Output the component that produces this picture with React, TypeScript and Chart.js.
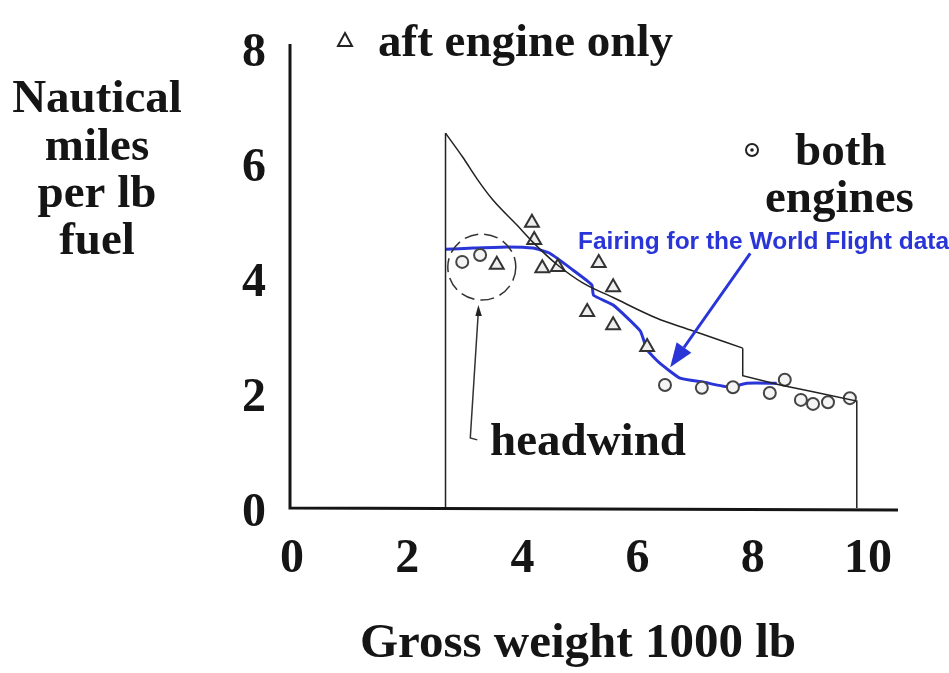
import React, { useEffect, useRef } from "react";
import { Chart, registerables } from "chart.js";
Chart.register(...registerables);

const SERIF = "'Liberation Serif', 'Times New Roman', serif";
const SANS = "'Liberation Sans', Arial, sans-serif";
const BLUE = "#2a35d8";
const INK = "#151515";

// Axis ranges and tick labels
const X_MIN = 0;
const X_MAX = 10;
const Y_MIN = 0;
const Y_MAX = 8;
const X_STEP = 2;
const Y_STEP = 2;

// Envelope curve (thin black line)
const envelopeX = [2.70, 3.0, 3.25, 3.52, 3.94, 4.22, 4.64, 5.09, 5.61, 6.37, 6.94, 7.86];
const envelopeY = [6.52, 6.10, 5.72, 5.36, 4.92, 4.62, 4.23, 3.91, 3.66, 3.30, 3.10, 2.78];
// Envelope edges: left vertical, step and right vertical (null = gap)
const edgeX = [2.70, 2.70, null, 7.86, 7.86, 8.51, 9.08, 9.84, 9.84];
const edgeY = [0, 6.52, null, 2.78, 2.30, 2.14, 2.02, 1.86, 0];

// Fairing for the World Flight data (blue)
const fairX = [2.70, 3.18, 3.77, 4.22, 4.51, 4.91, 5.24, 5.27, 5.61, 6.08, 6.20, 6.42, 6.77, 7.17, 7.64, 7.93, 8.45];
const fairY = [4.50, 4.52, 4.54, 4.52, 4.43, 4.14, 3.88, 3.70, 3.53, 3.08, 2.75, 2.52, 2.26, 2.19, 2.10, 2.17, 2.17];

// aft engine only (triangles)
const aftX = [3.59, 4.20, 4.24, 4.38, 4.65, 5.36, 5.61, 5.16, 5.61, 6.20];
const aftY = [4.23, 4.96, 4.66, 4.17, 4.19, 4.26, 3.84, 3.41, 3.18, 2.80];

// both engines (circles)
const bothX = [2.99, 3.30, 6.51, 7.15, 7.69, 8.33, 8.59, 8.87, 9.08, 9.34, 9.72];
const bothY = [4.28, 4.40, 2.14, 2.09, 2.10, 2.00, 2.23, 1.88, 1.81, 1.84, 1.91];

// Annotation anchors (data units)
const headwindCircle = { x: 3.33, y: 4.19, rx: 34, ry: 33 };
const headwindArrowFrom = { x: 3.13, y: 1.22 };
const headwindArrowTo = { x: 3.27, y: 3.53 };
const fairArrowFrom = { x: 7.99, y: 4.43 };
const fairArrowTo = { x: 6.60, y: 2.45 };

const pts = (xs: (number | null)[], ys: (number | null)[]) =>
  xs.map((x, i) => ({ x: x as any, y: ys[i] as any }));

const annotPlugin = {
  id: "annot",
  afterDraw(chart: any) {
    const ctx: CanvasRenderingContext2D = chart.ctx;
    const xs = chart.scales.x;
    const ys = chart.scales.y;
    const px = (v: number) => xs.getPixelForValue(v);
    const py = (v: number) => ys.getPixelForValue(v);
    ctx.save();

    // axes
    ctx.strokeStyle = INK;
    ctx.lineWidth = 3;
    ctx.beginPath();
    ctx.moveTo(px(0), py(Y_MAX) - 4);
    ctx.lineTo(px(0), py(0));
    ctx.lineTo(px(X_MAX) + 32, py(0) + 2);
    ctx.stroke();

    const text = (s: string, x: number, y: number, font: string, color = INK, align: CanvasTextAlign = "left") => {
      ctx.font = font;
      ctx.fillStyle = color;
      ctx.textAlign = align;
      ctx.textBaseline = "alphabetic";
      ctx.fillText(s, x, y);
    };
    const big = `bold 47px ${SERIF}`;
    const tickFont = `bold 48px ${SERIF}`;

    // tick labels from the scales' own ticks
    xs.ticks.forEach((t: any) => {
      text(String(t.value), px(t.value) + 2, py(0) + 64, tickFont, INK, "center");
    });
    ys.ticks.forEach((t: any) => {
      text(String(t.value), 254, py(t.value) + 18, tickFont, INK, "center");
    });

    // y title
    text("Nautical", 97, 112, big, INK, "center");
    text("miles", 97, 160, big, INK, "center");
    text("per lb", 97, 207, big, INK, "center");
    text("fuel", 97, 254, big, INK, "center");
    // x title
    text("Gross weight 1000 lb", 578, 657, `bold 49px ${SERIF}`, INK, "center");

    // legend: aft engine only
    ctx.strokeStyle = "#222";
    ctx.lineWidth = 2;
    ctx.beginPath();
    ctx.moveTo(345, 33);
    ctx.lineTo(352, 46);
    ctx.lineTo(338, 46);
    ctx.closePath();
    ctx.stroke();
    text("aft engine only", 378, 56, big);

    // legend: both engines
    ctx.beginPath();
    ctx.arc(752, 150, 6, 0, Math.PI * 2);
    ctx.stroke();
    ctx.fillStyle = "#222";
    ctx.beginPath();
    ctx.arc(752, 150, 1.8, 0, Math.PI * 2);
    ctx.fill();
    text("both", 795, 165, big);
    text("engines", 765, 212, big);

    // headwind dashed circle
    ctx.strokeStyle = "#333";
    ctx.lineWidth = 1.5;
    ctx.setLineDash([14, 6]);
    ctx.beginPath();
    ctx.ellipse(px(headwindCircle.x), py(headwindCircle.y), headwindCircle.rx, headwindCircle.ry, 0, 0, Math.PI * 2);
    ctx.stroke();
    ctx.setLineDash([]);

    // headwind leader arrow
    const hx0 = px(headwindArrowFrom.x), hy0 = py(headwindArrowFrom.y);
    const hx1 = px(headwindArrowTo.x), hy1 = py(headwindArrowTo.y);
    ctx.strokeStyle = "#333";
    ctx.lineWidth = 1.5;
    ctx.beginPath();
    ctx.moveTo(hx0 + 7, hy0 + 2);
    ctx.lineTo(hx0, hy0);
    ctx.lineTo(hx1, hy1 + 6);
    ctx.stroke();
    ctx.fillStyle = "#222";
    ctx.beginPath();
    ctx.moveTo(hx1, hy1);
    ctx.lineTo(hx1 + 3.5, hy1 + 11);
    ctx.lineTo(hx1 - 3, hy1 + 11);
    ctx.closePath();
    ctx.fill();
    text("headwind", 490, 455, big);

    // fairing annotation
    text("Fairing for the World Flight data", 578, 249, `bold 24.5px ${SANS}`, BLUE);
    const fx0 = px(fairArrowFrom.x), fy0 = py(fairArrowFrom.y);
    const fx1 = px(fairArrowTo.x), fy1 = py(fairArrowTo.y);
    const ang = Math.atan2(fy1 - fy0, fx1 - fx0);
    const hl = 24, hw = 9;
    const bx = fx1 - hl * Math.cos(ang), by = fy1 - hl * Math.sin(ang);
    ctx.strokeStyle = BLUE;
    ctx.lineWidth = 3;
    ctx.beginPath();
    ctx.moveTo(fx0, fy0);
    ctx.lineTo(bx, by);
    ctx.stroke();
    ctx.fillStyle = BLUE;
    ctx.beginPath();
    ctx.moveTo(fx1, fy1);
    ctx.lineTo(bx + hw * Math.sin(ang), by - hw * Math.cos(ang));
    ctx.lineTo(bx - hw * Math.sin(ang), by + hw * Math.cos(ang));
    ctx.closePath();
    ctx.fill();

    ctx.restore();
  },
};

export default function App() {
  const ref = useRef<HTMLCanvasElement | null>(null);
  useEffect(() => {
    if (!ref.current) return;
    const chart = new Chart(ref.current, {
      type: "scatter",
      data: {
        datasets: [
          {
            label: "envelope",
            data: pts(envelopeX, envelopeY),
            showLine: true,
            borderColor: "#222",
            borderWidth: 1.5,
            pointRadius: 0,
            cubicInterpolationMode: "monotone",
          },
          {
            label: "edges",
            data: pts(edgeX, edgeY),
            showLine: true,
            spanGaps: false,
            borderColor: "#222",
            borderWidth: 1.5,
            pointRadius: 0,
            tension: 0,
          },
          {
            label: "both engines",
            data: pts(bothX, bothY),
            pointStyle: "circle",
            pointRadius: 6,
            pointBorderWidth: 2,
            pointBorderColor: "#444",
            pointBackgroundColor: "#f4f4f4",
            showLine: false,
          },
          {
            label: "aft engine only",
            data: pts(aftX, aftY),
            pointStyle: "triangle",
            pointRadius: 8,
            pointBorderWidth: 2,
            pointBorderColor: "#333",
            pointBackgroundColor: "#eeeeee",
            showLine: false,
          },
          {
            label: "fairing",
            data: pts(fairX, fairY),
            showLine: true,
            borderColor: BLUE,
            borderWidth: 3,
            pointRadius: 0,
            tension: 0.15,
          },
        ],
      },
      options: {
        responsive: false,
        animation: false,
        layout: { padding: { left: 0, top: 48, right: 83, bottom: 0 } },
        plugins: { legend: { display: false }, tooltip: { enabled: false } },
        scales: {
          x: {
            type: "linear",
            min: X_MIN,
            max: X_MAX,
            afterFit: (s: any) => {
              s.height = 673 - 508;
            },
            grid: { display: false, drawTicks: false },
            border: { display: false },
            ticks: { stepSize: X_STEP, display: false },
          },
          y: {
            type: "linear",
            min: Y_MIN,
            max: Y_MAX,
            afterFit: (s: any) => {
              s.width = 290;
            },
            grid: { display: false, drawTicks: false },
            border: { display: false },
            ticks: { stepSize: Y_STEP, display: false },
          },
        },
      },
      plugins: [annotPlugin],
    });
    return () => chart.destroy();
  }, []);
  return (
    <div style={{ position: "absolute", left: 0, top: 0, width: 949, height: 673, background: "#fff" }}>
      <canvas ref={ref} width={949} height={673} style={{ display: "block" }} />
    </div>
  );
}
